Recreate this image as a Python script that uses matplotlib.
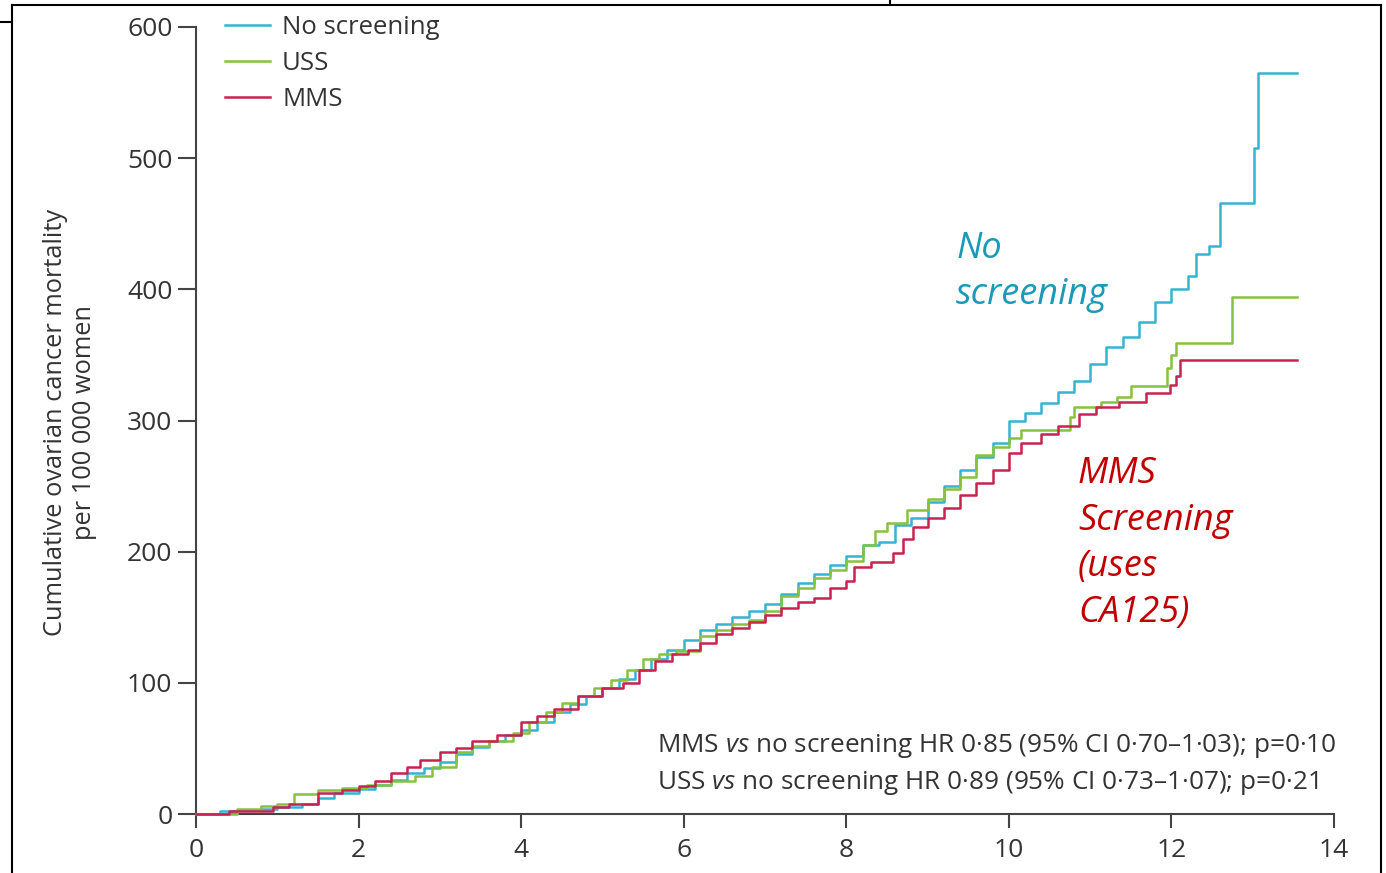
import matplotlib.pyplot as plt
from matplotlib.lines import Line2D

plt.rcParams['font.family'] = ['Open Sans', 'DejaVu Sans']
plt.rcParams['mathtext.fontset'] = 'custom'
plt.rcParams['mathtext.rm'] = 'Open Sans'
plt.rcParams['mathtext.it'] = 'Open Sans:italic'

# cumulative mortality per 100 000 women, read as step points (years, value)
t_none = [0, 0.3, 0.5, 0.8, 1.0, 1.3, 1.5, 1.7, 2.0, 2.2, 2.4, 2.6, 2.8, 3.0,
          3.2, 3.4, 3.6, 3.8, 4.0, 4.2, 4.4, 4.6, 4.8, 5.0, 5.2, 5.4, 5.6, 5.8,
          6.0, 6.2, 6.4, 6.6, 6.8, 7.0, 7.2, 7.4, 7.6, 7.8, 8.0, 8.2, 8.4, 8.6,
          8.8, 9.0, 9.2, 9.4, 9.6, 9.8, 10.0, 10.2, 10.4, 10.6, 10.8, 11.0,
          11.2, 11.4, 11.6, 11.8, 12.0, 12.2, 12.3, 12.46, 12.6, 13.02, 13.07,
          13.55]
v_none = [0, 2, 3, 4, 5, 8, 12, 16, 19, 22, 26, 31, 35, 40, 46, 51, 56, 60,
          64, 70, 78, 84, 90, 96, 103, 110, 118, 125, 133, 140, 145, 150, 155,
          160, 168, 176, 183, 190, 197, 205, 207, 220, 226, 238, 250, 262, 272,
          283, 300, 306, 313, 322, 330, 343, 356, 364, 375, 390, 400, 410, 427,
          433, 466, 508, 565, 565]

t_uss = [0, 0.5, 0.8, 1.0, 1.2, 1.5, 1.8, 2.1, 2.4, 2.7, 2.9, 3.2, 3.4, 3.6,
         3.9, 4.1, 4.3, 4.5, 4.7, 4.9, 5.1, 5.3, 5.5, 5.7, 5.9, 6.2, 6.4, 6.6,
         6.8, 7.0, 7.2, 7.4, 7.6, 7.8, 8.0, 8.2, 8.35, 8.5, 8.75, 9.0, 9.2,
         9.4, 9.6, 9.8, 10.0, 10.15, 10.75, 10.8, 11.13, 11.33, 11.5, 11.95,
         12.0, 12.06, 12.74, 13.55]
v_uss = [0, 4, 6, 8, 15, 18, 20, 22, 25, 29, 36, 47, 52, 56, 62, 70, 78, 85,
         90, 96, 102, 110, 118, 122, 124, 136, 140, 145, 148, 155, 166, 172,
         180, 186, 193, 205, 216, 222, 232, 240, 248, 257, 274, 280, 287, 293,
         303, 310, 314, 318, 326, 340, 350, 359, 394, 394]

t_mms = [0, 0.4, 0.95, 1.15, 1.5, 1.8, 2.0, 2.2, 2.4, 2.6, 2.75, 3.0, 3.2,
         3.4, 3.7, 4.0, 4.2, 4.4, 4.7, 5.0, 5.25, 5.45, 5.65, 5.85, 6.05, 6.2,
         6.4, 6.6, 6.8, 7.0, 7.2, 7.4, 7.6, 7.8, 8.0, 8.1, 8.3, 8.57, 8.7,
         8.82, 9.0, 9.2, 9.4, 9.6, 9.8, 10.0, 10.15, 10.4, 10.6, 10.86, 11.07,
         11.36, 11.69, 11.98, 12.06, 12.1, 13.55]
v_mms = [0, 2, 5, 8, 16, 18, 21, 25, 31, 36, 41, 47, 50, 56, 60, 70, 75, 80,
         90, 96, 100, 110, 117, 122, 125, 130, 137, 142, 146, 152, 157, 162,
         165, 172, 178, 188, 192, 199, 210, 219, 226, 233, 243, 252, 262, 275,
         283, 290, 296, 305, 310, 314, 321, 327, 334, 346, 346]

series = [('No screening', t_none, v_none, '#35b4d2'),
          ('USS', t_uss, v_uss, '#86c140'),
          ('MMS', t_mms, v_mms, '#c8234f')]

x_ticks = [0, 2, 4, 6, 8, 10, 12, 14]
y_ticks = [0, 100, 200, 300, 400, 500, 600]

stats_lines = ['MMS $\\it{vs}$ no screening HR 0·85 (95% CI 0·70–1·03); p=0·10',
               'USS $\\it{vs}$ no screening HR 0·89 (95% CI 0·73–1·07); p=0·21']

txt = '#333333'
axc = '#444444'

fig = plt.figure(figsize=(13.86, 8.73), dpi=100)
ax = fig.add_axes([196 / 1386, 1 - 814 / 873, 1138 / 1386, 787 / 873])

for name, t, v, c in series:
    ax.plot(t, v, drawstyle='steps-post', color=c, lw=1.8, label=name,
            clip_on=False, zorder=3)

ax.set_xlim(0, 14)
ax.set_ylim(0, 600)
ax.set_xticks(x_ticks)
ax.set_yticks(y_ticks)
for s in ['top', 'right']:
    ax.spines[s].set_visible(False)
for s in ['left', 'bottom']:
    ax.spines[s].set_color(axc)
    ax.spines[s].set_linewidth(1.5)
ax.tick_params(axis='y', length=13, width=1.5, color=axc, labelsize=19,
               labelcolor=txt, pad=4)
ax.tick_params(axis='x', length=10, width=1.5, color=axc, labelsize=19,
               labelcolor=txt, pad=7)

fig.text(70 / 1386, 1 - 422 / 873,
         'Cumulative ovarian cancer mortality\nper 100 000 women',
         rotation=90, ha='center', va='center', multialignment='center',
         fontsize=18.3, color=txt)

ax.legend(loc='upper left', bbox_to_anchor=(225 / 1386, 1 - 15 / 873),
          bbox_transform=fig.transFigure, frameon=False, fontsize=18.5,
          labelcolor=txt, handlelength=1.75, handletextpad=0.47,
          labelspacing=0.43, borderpad=0, borderaxespad=0)

# curve annotations
ax.text(9.35, 413, 'No\nscreening', color='#1a9ab8', fontsize=26,
        style='italic', ha='left', va='center', linespacing=1.38)
ax.text(10.85, 206, 'MMS\nScreening\n(uses\nCA125)', color='#c00000',
        fontsize=26, style='italic', ha='left', va='center', linespacing=1.38)

ax.text(5.67, 47, stats_lines[0], fontsize=18.8, color=txt, ha='left',
        va='baseline')
ax.text(5.67, 19, stats_lines[1], fontsize=18.8, color=txt, ha='left',
        va='baseline')

# surrounding frame lines
def fline(xs, ys):
    fig.add_artist(Line2D([x / 1386 for x in xs], [1 - y / 873 for y in ys],
                          color='black', lw=1.5))

fline([12, 1381], [5, 5])
fline([12, 12], [5, 873])
fline([0, 12], [22, 22])
fline([1381, 1381], [5, 873])
fline([890, 890], [0, 5])

fig.savefig('out.png', dpi=100)
